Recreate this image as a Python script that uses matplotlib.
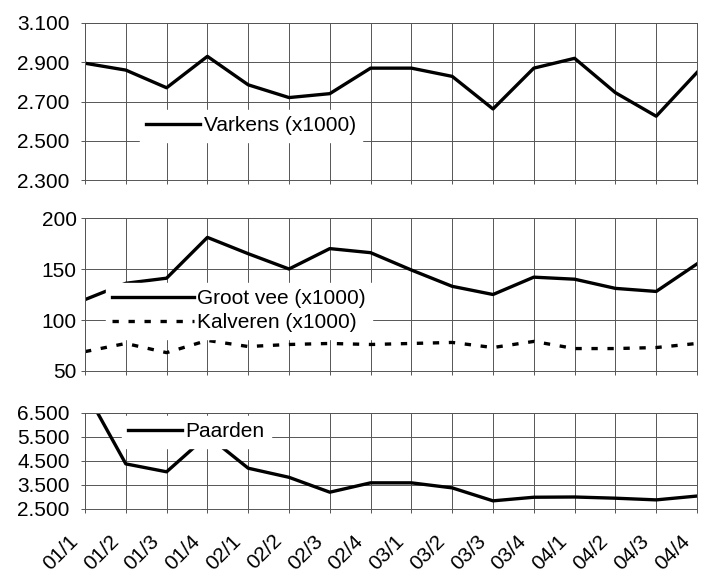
import numpy as np
import matplotlib.pyplot as plt
from matplotlib.transforms import ScaledTranslation

plt.rcParams['font.family'] = ['Liberation Sans', 'DejaVu Sans']

# kwartalen
kwartalen = ['01/1', '01/2', '01/3', '01/4', '02/1', '02/2', '02/3', '02/4',
             '03/1', '03/2', '03/3', '03/4', '04/1', '04/2', '04/3', '04/4']

# aantallen
varkens = [2895, 2860, 2770, 2930, 2785, 2720, 2740, 2870,
           2870, 2828, 2662, 2870, 2920, 2745, 2625, 2848]
groot_vee = [120, 136, 141, 181, 165, 150, 170, 166,
             149, 133, 125, 142, 140, 131, 128, 155]
kalveren = [69, 77, 68, 80, 74, 76, 77, 76,
            77, 78, 73, 79, 72, 72, 73, 77]
paarden = [7450, 4380, 4050, 5560, 4200, 3820, 3200, 3590,
           3590, 3380, 2840, 2990, 3000, 2950, 2880, 3040]

# y-as
ticks_varkens = [2300, 2500, 2700, 2900, 3100]
labels_varkens = ['2.300', '2.500', '2.700', '2.900', '3.100']
ticks_vee = [50, 100, 150, 200]
labels_vee = ['50', '100', '150', '200']
ticks_paarden = [2500, 3500, 4500, 5500, 6500]
labels_paarden = ['2.500', '3.500', '4.500', '5.500', '6.500']

x = np.arange(len(kwartalen))
gridkleur = '#555555'
lw = 2.4
fs = 15

fig = plt.figure(figsize=(7.07, 5.87), dpi=100)
left, width = 85/707, 612/707
ax1 = fig.add_axes([left, 1-180/587, width, 157/587])
ax2 = fig.add_axes([left, 1-371/587, width, 153/587])
ax3 = fig.add_axes([left, 1-509/587, width, 96/587])

def opmaak(ax, ticks, labels, pad):
	ax.set_xlim(0, len(kwartalen)-1)
	ax.set_ylim(ticks[0], ticks[-1])
	ax.set_yticks(ticks)
	ax.set_yticklabels(labels)
	ax.set_xticks(x)
	ax.grid(True, color=gridkleur, linewidth=0.7)
	ax.set_axisbelow(True)
	for s in ax.spines.values():
		s.set_color(gridkleur)
		s.set_linewidth(0.7)
	ax.tick_params(axis='both', colors=gridkleur, length=3, width=0.7,
	               labelcolor='black', labelsize=fs)
	ax.tick_params(axis='y', pad=pad)

opmaak(ax1, ticks_varkens, labels_varkens, 8)
opmaak(ax2, ticks_vee, labels_vee, 3)
opmaak(ax3, ticks_paarden, labels_paarden, 8)

ax1.plot(x, varkens, color='black', linewidth=lw, label='Varkens (x1000)')
ax2.plot(x, groot_vee, color='black', linewidth=lw, label='Groot vee (x1000)')
ax2.plot(x, kalveren, color='black', linewidth=lw, dashes=(1.9, 2.9),
         label='Kalveren (x1000)')
ax3.plot(x, paarden, color='black', linewidth=lw, label='Paarden')

ax1.set_xticklabels([])
ax2.set_xticklabels([])
ax3.set_xticklabels(kwartalen, rotation=45, ha='right', rotation_mode='anchor')
ax3.tick_params(axis='x', pad=13)
# labels iets naar links schuiven
verschuiving = ScaledTranslation(-17/100, 0, fig.dpi_scale_trans)
for lab in ax3.get_xticklabels():
	lab.set_transform(lab.get_transform() + verschuiving)

def legenda(ax, bbox, handlelength, spacing):
	leg = ax.legend(loc='upper left', bbox_to_anchor=bbox, frameon=True,
	                fontsize=fs, handlelength=handlelength, handletextpad=0.15,
	                borderpad=0.3, labelspacing=spacing, borderaxespad=0)
	leg.get_frame().set_facecolor('white')
	leg.get_frame().set_edgecolor('white')
	leg.get_frame().set_alpha(1)
	leg.get_frame().set_boxstyle('square', pad=0)

legenda(ax1, ((140-85)/612, 1-(110-23)/157), 2.6, 0.15)
legenda(ax2, ((106-85)/612, 1-(283-218)/153), 3.9, 0.25)
legenda(ax3, ((122-85)/612, 1-(416-413)/96), 2.6, 0.15)

fig.savefig('out.png', dpi=100)
